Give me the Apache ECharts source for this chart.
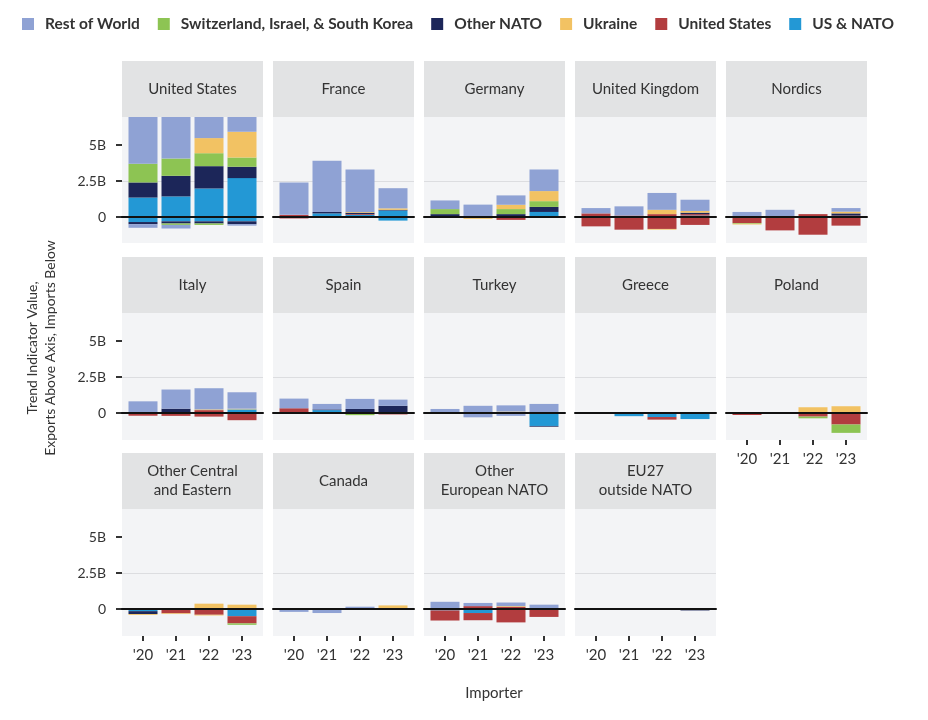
<!DOCTYPE html>
<html><head><meta charset="utf-8">
<script src="https://cdn.jsdelivr.net/npm/echarts@6/dist/echarts.min.js"></script>
<style>html,body{margin:0;padding:0;background:#fff}#c{width:928px;height:720px}</style>
</head><body><div id="c"></div>
<script>
const years = ["'20", "'21", "'22", "'23"];
const importers = ["United States", "France", "Germany", "United Kingdom", "Nordics",
  "Italy", "Spain", "Turkey", "Greece", "Poland",
  "Other Central\nand Eastern", "Canada", "Other\nEuropean NATO", "EU27\noutside NATO"];
const stackOrder = ["US & NATO", "United States", "Other NATO", "Switzerland, Israel, & South Korea", "Ukraine", "Rest of World"];
const legendOrder = ["Rest of World", "Switzerland, Israel, & South Korea", "Other NATO", "Ukraine", "United States", "US & NATO"];
const yTickValues = [0, 2.5, 5];
const yTickLabels = ["0", "2.5B", "5B"];

// Exports (above axis), billions TIV; one row per importer panel, columns '20..'23
const usNatoExports = [[1.35,1.43,1.98,2.70],[0,0.25,0.15,0.45],[0,0,0,0.35],[0,0,0,0.10],[0,0,0,0],
  [0,0,0,0.25],[0,0.20,0,0],[0,0,0,0],[0,0,0,0],[0,0,0,0],[0,0,0,0],[0,0,0,0],[0,0,0,0],[0,0,0,0]];
const unitedStatesExports = [[0,0,0,0],[0.15,0,0.05,0],[0,0,0,0],[0.25,0.10,0.20,0.10],[0.05,0.05,0.20,0.10],
  [0.05,0,0.20,0],[0.33,0,0,0],[0,0,0,0],[0,0,0,0],[0,0,0,0],[0,0,0,0],[0,0,0,0],[0,0.20,0.15,0],[0,0,0,0]];
const otherNatoExports = [[1.05,1.43,1.55,0.79],[0,0.10,0.10,0.05],[0.20,0.05,0.20,0.35],[0,0,0,0.10],[0,0,0,0.15],
  [0,0.30,0,0],[0,0.05,0.28,0.50],[0,0,0.05,0],[0,0,0,0],[0,0,0,0],[0,0,0,0],[0,0,0,0],[0,0,0,0],[0,0,0,0]];
const swissIsraelKoreaExports = [[1.30,1.20,0.90,0.64],[0,0,0,0],[0.35,0,0.35,0.40],[0,0,0,0],[0,0,0,0],
  [0,0,0,0],[0,0,0,0],[0,0,0,0],[0,0,0,0],[0,0,0,0],[0,0,0,0],[0,0,0,0],[0,0,0,0],[0,0,0,0]];
const ukraineExports = [[0,0,1.05,1.79],[0,0,0.05,0.10],[0,0,0.30,0.70],[0,0,0.30,0.12],[0,0,0,0.12],
  [0,0,0.05,0.05],[0,0,0,0],[0,0,0.05,0],[0,0,0,0],[0,0,0.40,0.47],[0,0,0.37,0.30],[0,0,0,0.25],[0,0,0.05,0],[0,0,0,0]];
const restOfWorldExports = [[3.25,2.89,1.47,1.03],[2.25,3.55,2.95,1.40],[0.60,0.81,0.65,1.50],[0.37,0.64,1.17,0.78],[0.30,0.45,0,0.25],
  [0.76,1.33,1.47,1.14],[0.67,0.38,0.70,0.43],[0.28,0.50,0.43,0.63],[0,0,0,0],[0,0,0,0],[0,0,0,0],[0,0,0.16,0],[0.50,0.22,0.25,0.30],[0,0,0,0]];

// Imports (below axis)
const usNatoImports = [[-0.35,-0.30,-0.30,-0.30],[0,0,0,-0.25],[0,0,0,0],[0,0,0,0],[0,0,0,0],
  [0,0,0,-0.05],[0,0,0,0],[0,0,0,-0.90],[0,-0.22,-0.28,-0.42],[0,0,0,0],[-0.15,0,0,-0.50],[0,0,0,0],[-0.10,-0.28,0,0],[0,0,0,0]];
const unitedStatesImports = [[0,0,0,0],[-0.10,0,0,0],[0,0,-0.20,-0.05],[-0.65,-0.88,-0.83,-0.55],[-0.42,-0.93,-1.23,-0.60],
  [-0.19,-0.20,-0.25,-0.45],[0,0,0,-0.10],[0,0,0,0],[-0.05,0,-0.18,0],[-0.14,0,-0.25,-0.80],[0,-0.30,-0.40,-0.50],[0,0,-0.07,0],[-0.70,-0.50,-0.93,-0.55],[0,0,0,0]];
const otherNatoImports = [[-0.15,-0.15,-0.15,-0.20],[0,0,0,0],[0,0,0,0],[0,0,0,0],[0,0,0,0],
  [0,0,0,0],[-0.05,0,-0.05,0],[0,0,0,-0.05],[0,0,0,0],[0,0,0,0],[-0.20,0,0,0],[0,0,0,0],[0,0,0,0],[0,0,0,-0.10]];
const swissIsraelKoreaImports = [[0,-0.10,-0.10,0],[0,0,0,0],[0,-0.05,0,0],[0,0,0,0],[-0.05,0,0,0],
  [0,0,0,0],[0,0,-0.10,0],[0,0,0,0],[0,0,0,0],[0,0,-0.12,-0.58],[0,0,0,-0.10],[0,0,0,0],[0,0,0,0],[0,0,0,0]];
const ukraineImports = [[0,0,0,0],[0,0,0,0],[0,-0.08,0,0],[0,0,-0.05,0],[-0.05,0,0,0],
  [0,0,0,0],[0,0,0,0],[0,0,0,0],[0,0,0,0],[0,0,0,0],[-0.06,-0.05,-0.05,0],[0,0,0,0],[0,0,0,0],[0,0,0,0]];
const restOfWorldImports = [[-0.25,-0.25,0,-0.10],[0,0,0,0],[0,0,0,0],[0,0,0,0],[0,0,0,0],
  [0,0,0,0],[0,0,0,0],[-0.05,-0.30,-0.20,0],[0,0,0,0],[0,0,0,0],[0,0,0,0],[-0.20,-0.28,0,0],[0,0,0,0],[0,0,0,0]];

const exportsBySeries = [usNatoExports, unitedStatesExports, otherNatoExports, swissIsraelKoreaExports, ukraineExports, restOfWorldExports];
const importsBySeries = [usNatoImports, unitedStatesImports, otherNatoImports, swissIsraelKoreaImports, ukraineImports, restOfWorldImports];

const colors = {
  "US & NATO": "#2398d5",
  "United States": "#b23d3f",
  "Other NATO": "#1c2659",
  "Switzerland, Israel, & South Korea": "#8dc453",
  "Ukraine": "#f2c263",
  "Rest of World": "#8fa2d4"
};

const FONT = "Lato";
const colX = [122, 273, 424, 575, 726];
const panelW = 141;
const innerPad = 4.5;
const rowZero = [217, 413, 609];
const pxPerB = 14.4;
const headerTop = [61, 257, 453];
const headerBottom = [117, 313, 509];
const bgBottom = [243, 440, 636];
const labelled = [9, 10, 11, 12, 13];

const grids = [], xAxes = [], yAxes = [], series = [], graphics = [];
const gl = '#dcdde0', tr = 'rgba(0,0,0,0)';
importers.forEach((name, p) => {
  const r = Math.floor(p / 5), c = p % 5;
  const left = colX[c];
  const top = rowZero[r] - 7.5 * pxPerB, height = 10 * pxPerB;
  const outer = 2 * p, inner = 2 * p + 1;
  // outer grid: full panel width, gridlines + zero line
  grids.push({ left: left, width: panelW, top: top, height: height });
  xAxes.push({
    gridIndex: outer, type: 'category', data: [''], z: 5,
    axisLine: { show: true, onZero: true, lineStyle: { color: '#111', width: 2 } },
    axisTick: { show: false }, axisLabel: { show: false }, splitLine: { show: false }
  });
  const showY = c === 0;
  yAxes.push({
    gridIndex: outer, type: 'value', min: -2.5, max: 7.5, interval: 1.25,
    axisLine: { show: false, onZero: false },
    splitLine: { show: true, lineStyle: { width: 1, color: [tr, gl, tr, gl, gl, gl, gl, gl, tr] } },
    axisTick: { show: showY, customValues: yTickValues, length: 6, lineStyle: { color: '#333', width: 2 } },
    axisLabel: { show: showY, customValues: yTickValues, margin: 16,
      formatter: v => yTickLabels[yTickValues.indexOf(v)], fontFamily: FONT, fontSize: 14, color: '#333' }
  });
  // inner grid: bars
  grids.push({ left: left + innerPad, width: panelW - 2 * innerPad, top: top, height: height });
  const showX = labelled.indexOf(p) >= 0;
  xAxes.push({
    gridIndex: inner, type: 'category', data: years, offset: -9,
    axisLine: { show: false, onZero: false }, splitLine: { show: false },
    axisTick: { show: showX, alignWithLabel: true, length: 5, lineStyle: { color: '#333', width: 2 } },
    axisLabel: { show: showX, margin: 12, fontFamily: FONT, fontSize: 15, color: '#333' }
  });
  yAxes.push({
    gridIndex: inner, type: 'value', min: -2.5, max: 7.5, interval: 1.25,
    axisLine: { show: false, onZero: false }, splitLine: { show: false },
    axisTick: { show: false }, axisLabel: { show: false }
  });
  stackOrder.forEach((s, k) => {
    const base = {
      name: s, type: 'bar', xAxisIndex: inner, yAxisIndex: inner, barWidth: 29,
      stack: 'panel' + p, stackStrategy: 'samesign',
      itemStyle: { color: colors[s] }, silent: true, animation: false
    };
    series.push(Object.assign({}, base, { data: exportsBySeries[k][p].slice() }));
    series.push(Object.assign({}, base, { data: importsBySeries[k][p].slice() }));
  });
  graphics.push({ type: 'rect', z: -10, shape: { x: left, y: headerBottom[r], width: panelW, height: bgBottom[r] - headerBottom[r] },
    style: { fill: '#f3f4f6' } });
  graphics.push({ type: 'rect', z: 100, shape: { x: left, y: headerTop[r], width: panelW, height: headerBottom[r] - headerTop[r] },
    style: { fill: '#e2e3e4' } });
  graphics.push({ type: 'text', z: 101, x: left + panelW / 2, y: (headerTop[r] + headerBottom[r]) / 2,
    style: { text: name, fill: '#333', font: '15px ' + FONT, textAlign: 'center', textVerticalAlign: 'middle', lineHeight: 19 } });
});

graphics.push({ type: 'text', z: 101, x: 41, y: 348, rotation: Math.PI / 2,
  style: { text: 'Trend Indicator Value,\nExports Above Axis, Imports Below', fill: '#333', font: '14px ' + FONT,
    textAlign: 'center', textVerticalAlign: 'middle', lineHeight: 18 } });
graphics.push({ type: 'text', z: 101, x: 494, y: 693,
  style: { text: 'Importer', fill: '#333', font: '15px ' + FONT, textAlign: 'center', textVerticalAlign: 'middle' } });

const chart = echarts.init(document.getElementById('c'), null, { renderer: 'canvas' });
chart.setOption({
  animation: false,
  backgroundColor: '#fff',
  legend: {
    data: legendOrder, left: 17, top: 11, icon: 'rect', itemWidth: 12, itemHeight: 12, itemGap: 18,
    selectedMode: false,
    textStyle: { fontFamily: FONT, fontWeight: 'bold', fontSize: 15.5, color: '#333', padding: [0, 0, 0, 6] }
  },
  grid: grids, xAxis: xAxes, yAxis: yAxes, series: series, graphic: graphics
});
</script></body></html>
